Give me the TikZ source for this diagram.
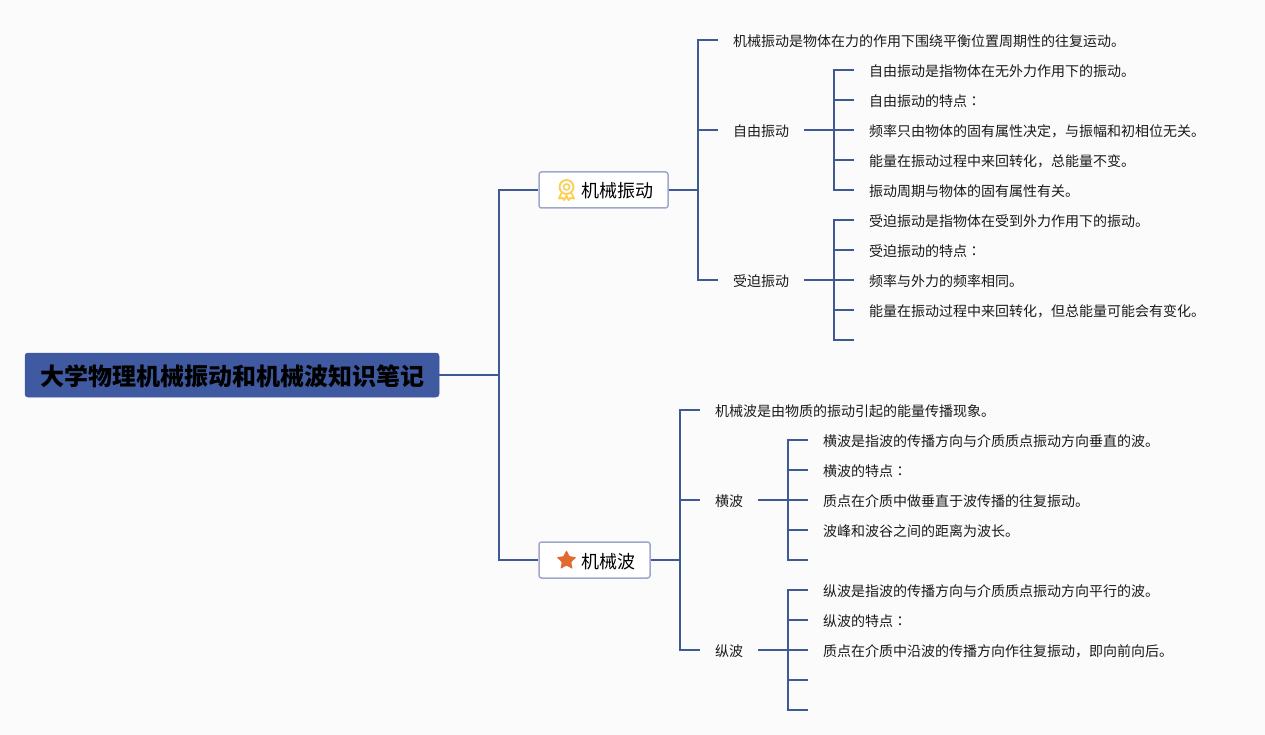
\documentclass[tikz,border=0pt]{standalone}
\usepackage{fontspec}
\setmainfont{Noto Sans CJK SC}
\newfontfamily\tcfont{Noto Sans CJK TC}
\usetikzlibrary{calc}
\definecolor{bgc}{HTML}{FBFBFC}
\definecolor{linec}{HTML}{3F5A92}
\definecolor{rootc}{HTML}{3F5AA0}
\definecolor{boxc}{HTML}{9DA8CB}
\definecolor{txtc}{HTML}{1A1A1A}
\definecolor{medalc}{HTML}{FDCF4E}
\definecolor{starc}{HTML}{E2692F}
\newcommand{\cln}{{\tcfont ：}}
\tikzset{
  x=1pt,y=-1pt,
  conn/.style={draw=linec,line width=1.5pt,line join=miter},
  rootbox/.style={draw=rootc,fill=rootc,rounded corners=3pt,line width=0.5pt,minimum width=414pt,minimum height=44pt,inner sep=0pt,font=\fontsize{24}{24}\selectfont\bfseries,text=black,text height=21.5pt,text depth=0pt},
  topicbox/.style={draw=boxc,fill=white,rounded corners=2.5pt,line width=1.5pt,minimum height=36pt,inner sep=0pt,font=\fontsize{18}{18}\selectfont,text=black,text height=16pt,text depth=0pt},
  leaf/.style={anchor=west,inner xsep=15pt,inner ysep=0pt,font=\fontsize{14}{14}\selectfont,text=txtc,text height=13pt,text depth=0pt},
}
\begin{document}
\begin{tikzpicture}
\useasboundingbox (0,0) rectangle (1265,735);
\fill[bgc] (0,0) rectangle (1265,735);

\node[rootbox] (root) at (232,375) {大学物理机械振动和机械波知识笔记};
\node[topicbox,minimum width=129pt] (b1) at (603.5,190) {\hspace*{28pt}机械振动};
\node[topicbox,minimum width=111pt] (b2) at (594.5,560) {\hspace*{28pt}机械波};

% icons
\draw[medalc,line width=1.8pt,line join=round] (561.5,193) -- (559,198.5) -- (562.5,198) -- (564.5,200) -- (566.5,195.5) -- (568.5,200) -- (570.5,198) -- (574,198.5) -- (571.5,193);
\node[circle,draw=medalc,fill=bgc,line width=1.8pt,minimum size=14pt,inner sep=0pt] (medal) at (566.5,187) {};
\node[circle,draw=medalc,line width=1.5pt,minimum size=6pt,inner sep=0pt] (medalin) at (566.5,187) {};
\fill[starc,rounded corners=1pt] (566.5,550) -- (569.5,556.3) -- (576.5,557.2) -- (571.2,562) -- (572.6,569) -- (566.5,565.5) -- (560.4,569) -- (561.8,562) -- (556.5,557.2) -- (563.5,556.3) -- cycle;

% level 2 - machine vibration
\node[leaf] (a1) at (718,40) {机械振动是物体在力的作用下围绕平衡位置周期性的往复运动。};
\node[leaf] (a2) at (718,130) {自由振动};
\node[leaf] (a3) at (718,280) {受迫振动};
\node[leaf] (a21) at (854,70) {自由振动是指物体在无外力作用下的振动。};
\node[leaf] (a22) at (854,100) {自由振动的特点\cln};
\node[leaf] (a23) at (854,130) {频率只由物体的固有属性决定，与振幅和初相位无关。};
\node[leaf] (a24) at (854,160) {能量在振动过程中来回转化，总能量不变。};
\node[leaf] (a25) at (854,190) {振动周期与物体的固有属性有关。};
\node[leaf] (a31) at (854,220) {受迫振动是指物体在受到外力作用下的振动。};
\node[leaf] (a32) at (854,250) {受迫振动的特点\cln};
\node[leaf] (a33) at (854,280) {频率与外力的频率相同。};
\node[leaf] (a34) at (854,310) {能量在振动过程中来回转化，但总能量可能会有变化。};
\coordinate (a35) at (854,340);

% level 2 - mechanical waves
\node[leaf] (w1) at (700,410) {机械波是由物质的振动引起的能量传播现象。};
\node[leaf] (w2) at (700,500) {横波};
\node[leaf] (w3) at (700,650) {纵波};
\node[leaf] (w21) at (808,440) {横波是指波的传播方向与介质质点振动方向垂直的波。};
\node[leaf] (w22) at (808,470) {横波的特点\cln};
\node[leaf] (w23) at (808,500) {质点在介质中做垂直于波传播的往复振动。};
\node[leaf] (w24) at (808,530) {波峰和波谷之间的距离为波长。};
\coordinate (w25) at (808,560);
\node[leaf] (w31) at (808,590) {纵波是指波的传播方向与介质质点振动方向平行的波。};
\node[leaf] (w32) at (808,620) {纵波的特点\cln};
\node[leaf] (w33) at (808,650) {质点在介质中沿波的传播方向作往复振动，即向前向后。};
\coordinate (w34) at (808,680);
\coordinate (w35) at (808,710);

% connectors
\foreach \k in {b1,b2} \draw[conn] (root.east) -| (499,0 |- \k.west) -- (\k.west);
\foreach \k in {a1,a2,a3} \draw[conn] (b1.east) -- (698,0 |- b1.east) |- (\k.west);
\foreach \k in {a21,a22,a23,a24,a25} \draw[conn] (a2.east) -- (834,0 |- a2.east) |- (\k.west);
\foreach \k in {a31,a32,a33,a34} \draw[conn] (a3.east) -- (834,0 |- a3.east) |- (\k.west);
\draw[conn] (a3.east) -- (834,0 |- a3.east) |- (a35);
\foreach \k in {w1,w2,w3} \draw[conn] (b2.east) -- (680,0 |- b2.east) |- (\k.west);
\foreach \k in {w21,w22,w23,w24} \draw[conn] (w2.east) -- (788,0 |- w2.east) |- (\k.west);
\draw[conn] (w2.east) -- (788,0 |- w2.east) |- (w25);
\foreach \k in {w31,w32,w33} \draw[conn] (w3.east) -- (788,0 |- w3.east) |- (\k.west);
\foreach \k in {w34,w35} \draw[conn] (w3.east) -- (788,0 |- w3.east) |- (\k);
\end{tikzpicture}
\end{document}
